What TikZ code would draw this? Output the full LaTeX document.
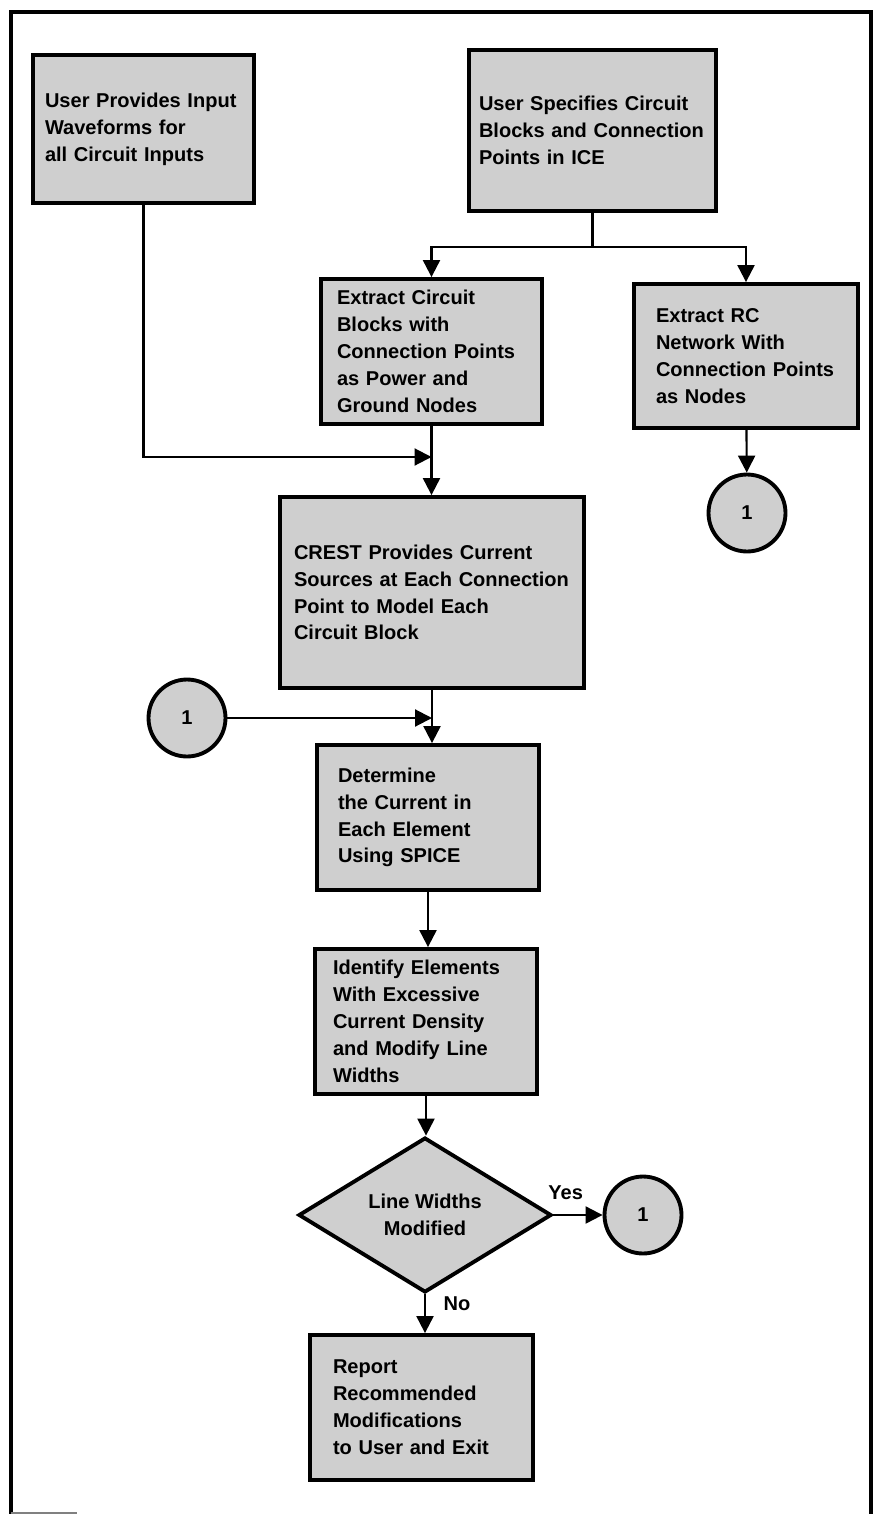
\documentclass[tikz,border=0pt]{standalone}
\usepackage{fontspec}
\setmainfont{Liberation Sans}
\usetikzlibrary{positioning, calc, quotes, arrows.meta, shapes.geometric}
\newcommand\blockfont{\fontsize{11.4}{15.3}\selectfont\bfseries}
\tikzset{
  every edge quotes/.style = {font = \blockfont, inner sep = 2pt},
  > = {Triangle[length = 3.4mm, width = 3.4mm]},
  flow/.style = {->, line width = 1.2pt},
  greyfill/.style = {fill = black!19},
  block/.style = {draw, greyfill, line width = 2.2pt, align = left, font = \blockfont,
    inner ysep = 2pt, minimum height = 2.9cm},
  link/.style = {draw, greyfill, circle, line width = 2.2pt, minimum size = 1.54cm,
    inner sep = 0pt, font = \blockfont},
  decision/.style = {draw, greyfill, diamond, line width = 2.2pt, align = center,
    font = \blockfont, minimum width = 5.06cm, minimum height = 2.92cm, inner sep = 0pt}
}

\begin{document}
\begin{tikzpicture}[x = 0.02cm, y = -0.02cm]

\useasboundingbox (0, 0) rectangle (873, 1514);
\draw [line width = 1.8pt] (11, 1514) -- (11, 12) -- (873, 12);
\draw [line width = 1.8pt] (871, 12) -- (871, 1514);
\draw [line width = 1pt, black!50] (11, 1513) -- (77, 1513);

\node [block, text width = 3.94cm, inner xsep = 0.24cm, minimum height = 2.96cm] (waves) at (143.5, 129)
  {User Provides Input\\Waveforms for\\all Circuit Inputs};
\node [block, text width = 4.54cm, inner xsep = 0.2cm, minimum height = 3.22cm] (ice) at (592.5, 130.5)
  {User Specifies Circuit\\Blocks and Connection\\Points in ICE};
\node [block, text width = 3.78cm, inner xsep = 0.32cm] (blocks) at (431.5, 351.5)
  {Extract Circuit\\Blocks with\\Connection Points\\as Power and\\Ground Nodes};
\node [block, text width = 3.6cm, inner xsep = 0.44cm, minimum height = 2.88cm] (rcnet) at (746, 356)
  {Extract RC\\Network With\\Connection Points\\as Nodes};
\node [link] (link1) at (747, 513) {1};
\node [block, text width = 5.52cm, inner xsep = 0.28cm, minimum height = 3.82cm] (crest) at (432, 592.5)
  {CREST Provides Current\\Sources at Each Connection\\Point to Model Each\\Circuit Block};
\node [link] (link2) at (187, 718) {1};
\node [block, text width = 3.6cm, inner xsep = 0.42cm] (spice) at (428, 817.5)
  {Determine\\the Current in\\Each Element\\Using SPICE};
\node [block, text width = 3.72cm, inner xsep = 0.36cm] (widths) at (426, 1021.5)
  {Identify Elements\\With Excessive\\Current Density\\and Modify Line\\Widths};
\node [decision] (check) at (425, 1215) {Line Widths\\Modified};
\node [link] (link3) at (643, 1215) {1};
\node [block, text width = 3.54cm, inner xsep = 0.46cm] (report) at (421.5, 1407.5)
  {Report\\Recommended\\Modifications\\to User and Exit};

\draw [line width = 1.2pt] (ice.south) -- ++(0, 34) coordinate (split);
\draw [flow] (split) -| (blocks);
\draw [flow] (split) -| (rcnet);

\coordinate (join1) at (blocks.south |- 0, 457);
\draw [flow] (waves) |- (join1);
\draw [flow] (blocks) -- (blocks |- crest.north);
\draw [flow] (rcnet) -- (link1);

\coordinate (join2) at (crest.south |- link2);
\draw [flow] (link2) -- (join2);
\draw [flow] (crest.south) -- (crest.south |- spice.north);
\draw [flow] (spice.south) -- (spice.south |- widths.north);
\draw [flow] (widths.south) -- (widths.south |- check.north);

\path [flow] (check) edge ["Yes" {above = 6pt, near start}] (link3);
\path [flow] (check.south) edge ["No" {right = 8pt, near start}] (check.south |- report.north);

\end{tikzpicture}
\end{document}
